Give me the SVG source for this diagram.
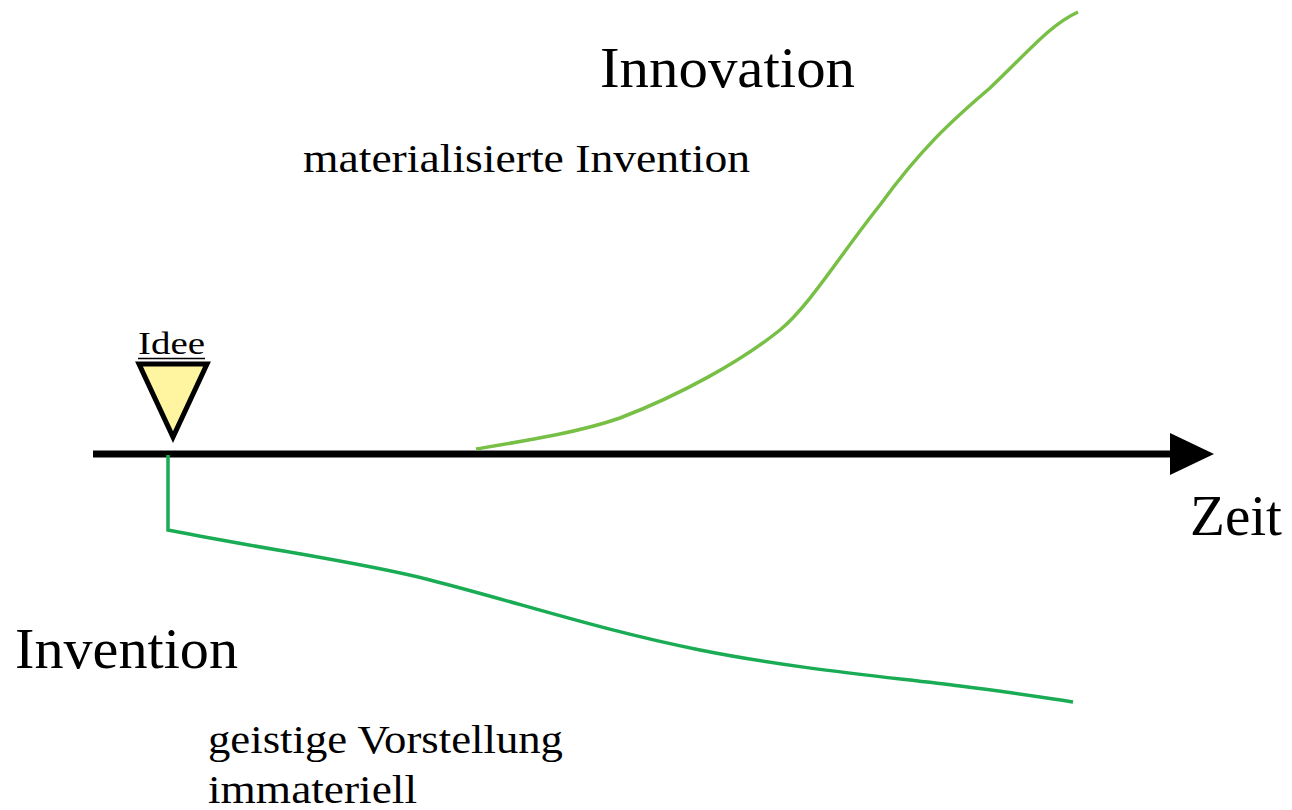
<svg xmlns="http://www.w3.org/2000/svg" width="1292" height="810" viewBox="0 0 1292 810">
<defs>
<style>
text{font-family:"Liberation Serif","DejaVu Serif",serif;fill:#000}
.big{font-size:56px}
.mid{font-size:41px}
.conn{fill:none;stroke-linecap:butt;stroke-linejoin:miter}
</style>
<marker id="arr" markerUnits="userSpaceOnUse" markerWidth="50" markerHeight="46" refX="0" refY="23" orient="auto" viewBox="0 0 50 46">
<path d="M0,2 L44,23 L0,44 Z" fill="#000"/>
</marker>
</defs>
<rect width="1292" height="810" fill="#fff"/>
<g id="connectors">
<path id="axis" class="conn" d="M93,454 H1170" stroke="#000" stroke-width="7" marker-end="url(#arr)"/>
<path id="invention-curve" class="conn" d="M168,455 V530 C280,552 360,562 430,580 C520,603 600,630 700,650 C800,670 900,678 960,686 C1010,692 1040,697 1073,702" stroke="#1aab55" stroke-width="3.5"/>
<path id="innovation-curve" class="conn" d="M476,449 C530,440 580,432 620,418 C680,395 740,362 780,330 C810,305 840,255 880,205 C920,150 950,122 990,88 C1030,50 1050,25 1078,12" stroke="#77bf45" stroke-width="3.5"/>
</g>
<g id="idee">
<path d="M139,364 H207 L173,437 Z" fill="#fff5a0" stroke="#000" stroke-width="5" stroke-linejoin="miter"/>
<text x="138" y="354" font-size="32" textLength="67" lengthAdjust="spacingAndGlyphs">Idee</text>
<line x1="138" y1="358.5" x2="205" y2="358.5" stroke="#000" stroke-width="1.5"/>
</g>
<g id="innovation">
<text class="big" x="600" y="87" textLength="255" lengthAdjust="spacingAndGlyphs">Innovation</text>
<text class="mid" x="303" y="172" textLength="447" lengthAdjust="spacingAndGlyphs">materialisierte Invention</text>
</g>
<g id="invention">
<text class="big" x="15" y="668" textLength="223" lengthAdjust="spacingAndGlyphs">Invention</text>
<text class="mid" x="208" y="753" textLength="355" lengthAdjust="spacingAndGlyphs">geistige Vorstellung</text>
<text class="mid" x="208" y="803" textLength="209" lengthAdjust="spacingAndGlyphs">immateriell</text>
</g>
<g id="zeit">
<text class="big" x="1190" y="535" textLength="92" lengthAdjust="spacingAndGlyphs">Zeit</text>
</g>
</svg>
